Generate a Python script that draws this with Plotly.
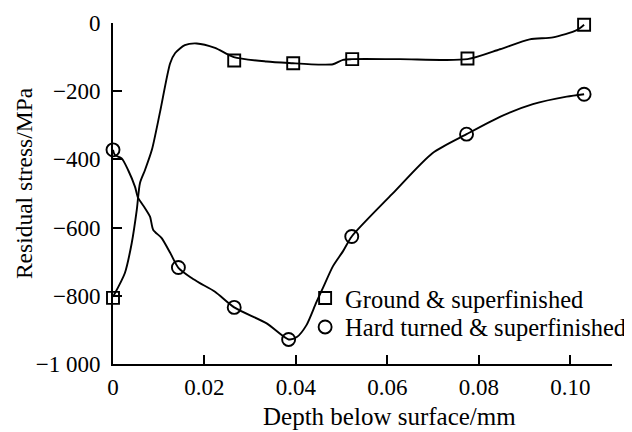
import plotly.graph_objects as go

# Measured points (markers)
ground_x = [0.0, 0.0265, 0.0394, 0.0523, 0.0775, 0.1030]
ground_y = [-806, -110, -118, -106, -104, -5]
hard_x = [0.0, 0.0143, 0.0265, 0.0384, 0.0522, 0.0773, 0.1030]
hard_y = [-372, -717, -834, -928, -626, -326, -209]

# Fitted curves
ground_curve_x = [0.0, 0.0026, 0.0041, 0.0052, 0.0059, 0.0070, 0.0085, 0.0103, 0.0125, 0.0136,
                  0.0157, 0.0183, 0.0223, 0.0264, 0.0336, 0.0393, 0.0452, 0.0481, 0.0503, 0.0522,
                  0.0627, 0.0775, 0.0846, 0.0911, 0.0962, 0.1014, 0.1030]
ground_curve_y = [-803, -733, -645, -548, -469, -431, -372, -260, -118, -88,
                  -65, -60, -73, -100, -113, -118, -122, -121, -108, -106,
                  -106, -106, -77, -48, -42, -21, -5]
hard_curve_x = [0.0, 0.0004, 0.0019, 0.0033, 0.0048, 0.0055, 0.0070, 0.0081, 0.0088, 0.0106,
                0.0125, 0.0143, 0.0172, 0.0190, 0.0223, 0.0265, 0.0336, 0.0384, 0.0402, 0.0423,
                0.0444, 0.0459, 0.0481, 0.0503, 0.0522, 0.0610, 0.0699, 0.0773,
                0.0846, 0.0918, 0.0992, 0.1030]
hard_curve_y = [-372, -387, -397, -431, -480, -513, -543, -568, -607, -630,
                -674, -718, -748, -763, -788, -834, -881, -928, -921, -886,
                -821, -777, -713, -669, -626, -502, -381, -326,
                -275, -238, -216, -209]

x_ticks = [0, 0.02, 0.04, 0.06, 0.08, 0.10]
x_tick_labels = ["0", "0.02", "0.04", "0.06", "0.08", "0.10"]
y_ticks = [-1000, -800, -600, -400, -200, 0]
y_tick_labels = ["\u22121 000", "\u2212800", "\u2212600", "\u2212400", "\u2212200", "0"]

FONT = "Liberation Serif, Times New Roman, serif"

fig = go.Figure()
fig.add_trace(go.Scatter(x=ground_curve_x, y=ground_curve_y, mode="lines",
                         line=dict(color="black", width=1.9, shape="spline", smoothing=0.7),
                         showlegend=False, hoverinfo="skip", cliponaxis=False))
fig.add_trace(go.Scatter(x=hard_curve_x, y=hard_curve_y, mode="lines",
                         line=dict(color="black", width=1.9, shape="spline", smoothing=0.7),
                         showlegend=False, hoverinfo="skip", cliponaxis=False))
fig.add_trace(go.Scatter(x=ground_x, y=ground_y, mode="markers", name="Ground & superfinished",
                         marker=dict(symbol="square-open", size=12, color="black", line=dict(width=1.9)),
                         cliponaxis=False, legend="legend"))
fig.add_trace(go.Scatter(x=hard_x, y=hard_y, mode="markers", name="Hard turned & superfinished",
                         marker=dict(symbol="circle-open", size=13, color="black", line=dict(width=1.9)),
                         cliponaxis=False, legend="legend2"))

axis_common = dict(showgrid=False, zeroline=False, showline=True, linecolor="black", linewidth=2,
                   ticks="inside", ticklen=9, tickwidth=2, tickcolor="black",
                   tickfont=dict(family=FONT, size=23, color="black"))

legend_common = dict(xanchor="left", yanchor="middle", bgcolor="rgba(0,0,0,0)",
                     font=dict(family=FONT, size=24.5, color="black"), itemwidth=30,
                     borderwidth=0)

# The page body has an 8px margin, so the figure is offset by 8px.
fig.update_layout(
    width=624, height=424,
    margin=dict(l=105, r=20, t=15, b=68, autoexpand=False),
    paper_bgcolor="white", plot_bgcolor="white",
    font=dict(family=FONT, size=23, color="black"),
    xaxis=dict(range=[0, 0.1091], tickvals=x_ticks, ticktext=x_tick_labels,
               ticklabelstandoff=1, **axis_common),
    yaxis=dict(range=[-1000, 0], tickvals=y_ticks, ticktext=y_tick_labels,
               ticklabelstandoff=6, **axis_common),
    legend=dict(x=0.385, y=0.1935, **legend_common),
    legend2=dict(x=0.385, y=0.1085, **legend_common),
    annotations=[
        dict(text="Depth below surface/mm", xref="paper", yref="paper", x=0.555, y=-0.155,
             xanchor="center", yanchor="middle", showarrow=False,
             font=dict(family=FONT, size=25, color="black")),
        dict(text="Residual stress/MPa", xref="paper", yref="paper", x=-0.178, y=0.531,
             xanchor="center", yanchor="middle", textangle=-90, showarrow=False,
             font=dict(family=FONT, size=23.5, color="black")),
    ],
)

fig.write_html("out.html")
